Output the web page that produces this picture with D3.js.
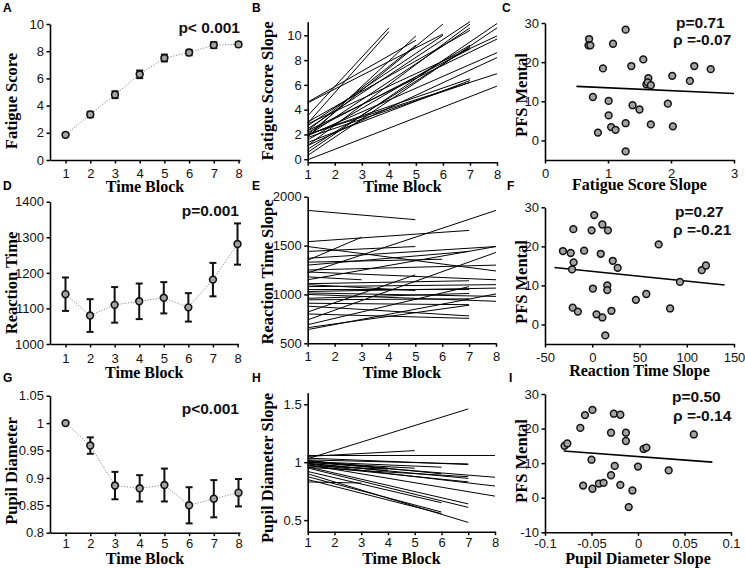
<!DOCTYPE html>
<html><head><meta charset="utf-8">
<script src="https://cdn.jsdelivr.net/npm/d3@7"></script>
<style>body{margin:0;background:#fff}</style>
</head><body>
<svg id="c" width="745" height="568"></svg>
<script>
// ---------- data ----------
const timeBlocks=[1,2,3,4,5,6,7,8];
const fatigueMean=[1.85,3.35,4.8,6.3,7.5,7.9,8.45,8.5];
const fatigueErr=[0.12,0.2,0.25,0.28,0.25,0.2,0.22,0.15];
const rtMean=[1140,1080,1110,1120,1130,1103,1181,1281];
const rtErr=[47,46,50,50,44,40,47,58];
const pupilMean=[1.0,0.959,0.886,0.881,0.887,0.850,0.862,0.873];
const pupilErr=[0.002,0.015,0.025,0.024,0.03,0.033,0.034,0.025];

// individual fitted lines: [value at block 1, last block, value at last block]
const fatigueLines=[
 [3.5,4,10.6],[2.9,4,10.3],
 [1.8,5,9.95],[4.6,5,9.6],[2.3,5,9.2],
 [2.0,6,10.9],[4.55,6,10.1],[2.7,6,10.0],
 [2.45,7,11.1],[1.1,7,10.9],[1.9,7,10.6],[3.0,7,10.4],[1.55,7,9.2],[0.8,7,9.05],[2.15,7,8.9],[2.0,7,6.5],[1.35,7,6.35],[1.75,7,6.2],
 [0.55,8,10.95],[0.3,8,10.6],[2.85,8,9.95],[2.3,8,9.7],[1.9,8,8.6],[1.1,8,8.2],[2.0,8,6.9],[-0.05,8,5.9]
];
const rtLines=[
 [1860,5,1765],[1540,7,1655],[1350,3,1585],[1440,5,1490],[1490,8,1240],[1220,8,1860],
 [1370,8,1490],[1150,8,1490],[1300,7,1440],[1250,8,1300],[740,8,1430],[820,5,1200],
 [1230,8,1150],[1110,7,1140],[1080,8,1100],[1050,7,1050],[1015,8,980],[1000,8,930],
 [945,7,955],[960,7,1010],[1030,8,1065],[910,7,895],[880,7,780],[800,7,755],
 [690,7,1080],[660,7,890],[640,8,1005],[1100,5,1040],[1330,6,1360],[1180,3,1150]
];
const pupilLines=[
 [1.03,7,1.46],[1.05,5,1.10],[1.058,8,1.058],[1.035,7,0.98],[1.02,7,0.985],[1.005,6,0.957],
 [1.01,4,0.948],[0.99,4,0.925],[1.0,8,0.87],[0.985,8,0.794],[0.977,8,0.707],[0.99,7,0.86],
 [0.97,7,0.83],[0.96,7,0.64],[0.95,7,0.61],[0.90,7,0.48],[0.92,6,0.65],[0.875,6,0.57],
 [0.85,6,0.556],[0.83,3,0.82],[0.955,7,0.875],[1.0,5,0.948],[0.97,4,0.94],[1.015,6,0.9]
];

const fatigueSlope=[0.70,0.69,0.72,1.08,1.28,0.92,1.37,1.56,1.64,1.61,1.63,1.68,2.37,2.63,2.30,2.02,0.76,1.01,1.01,1.39,1.50,1.95,1.05,1.12,0.84,1.28,1.68,2.03,1.28];
const pfsC=[25.9,24.3,24.3,24.7,28.3,18.4,19.0,20.7,15.9,14.3,14.8,14.1,19.0,18.2,15.2,16.5,11.1,10.1,6.4,9.0,7.9,9.4,3.4,2.7,2.0,4.4,4.1,3.6,-2.8];
const fitC=[[0.5,13.8],[3,12.0]];

const rtSlope=[-31,-22.8,-20,-19.7,-21.4,-8.6,-0.7,2.1,10.7,16.6,9,21.7,26.9,0.7,15.9,15.9,-20.7,-15.2,4.5,10.7,20.3,13.8,46.2,57.2,70.3,82.4,92.8,115.9,120.3];
const pfsF=[18.8,18.3,24.4,15.9,14.1,18.9,24.1,28.0,25.6,24.1,18.1,16.3,14.5,9.2,10.0,8.8,4.3,3.3,2.6,1.8,3.5,-2.8,6.3,7.8,20.5,4.1,10.9,13.9,15.1];
const fitF=[[-40,14.6],[140,10.1]];

const pupilSlope=[-0.079,-0.076,-0.062,-0.057,-0.049,-0.050,-0.059,-0.049,-0.042,-0.037,-0.029,-0.025,-0.029,-0.026,-0.019,-0.013,-0.013,-0.019,-0.006,-0.010,0.0,0.006,0.009,0.033,0.060];
const pfsI=[15.0,15.7,20.2,23.9,25.4,11.0,3.5,2.6,4.1,4.3,6.5,9.2,18.8,24.3,24.0,18.8,16.4,3.7,2.1,-2.7,9.0,14.1,14.5,7.9,18.3];
const fitI=[[-0.08,13.5],[0.08,10.3]];

// ---------- drawing ----------
const svg=d3.select('#c');
const SANS='"Liberation Sans", Arial, sans-serif';
const SERIF='"Liberation Serif", "Times New Roman", serif';
const GRAY='#a3a3a3';

function makePanel(o){
  const g=svg.append('g');
  const x=d3.scaleLinear().domain(o.xd).range(o.xr);
  const y=d3.scaleLinear().domain(o.yd).range(o.yr);
  const xa=g.append('g').attr('transform',`translate(0,${o.yr[0]})`)
    .call(d3.axisBottom(x).tickValues(o.xt).tickSize(3.5).tickSizeOuter(0).tickFormat(o.xf||(d=>d)));
  const ya=g.append('g').attr('transform',`translate(${o.xr[0]},0)`)
    .call(d3.axisLeft(y).tickValues(o.yt).tickSize(3.5).tickSizeOuter(0).tickPadding(2.5).tickFormat(o.yf||(d=>d)));
  [xa,ya].forEach(a=>{
    a.select('.domain').attr('stroke','#000').attr('stroke-width',1.6);
    a.selectAll('.tick line').attr('stroke','#000').attr('stroke-width',1.5);
    a.selectAll('text').attr('font-family',SANS).attr('font-size',13).attr('fill','#111');
  });
  xa.selectAll('text').attr('y',o.xtb).attr('dy',0);
  // titles
  g.append('text').attr('x',(o.xr[0]+o.xr[1])/2).attr('y',o.xTitleY).attr('text-anchor','middle')
    .attr('font-family',SERIF).attr('font-weight','bold').attr('font-size',16).text(o.xTitle);
  g.append('text').attr('transform',`translate(${o.yTitleX},${o.yTitleC}) rotate(-90)`).attr('text-anchor','middle')
    .attr('font-family',SERIF).attr('font-weight','bold').attr('font-size',16.5).text(o.yTitle);
  g.append('text').attr('x',o.lx).attr('y',o.ly).attr('font-family',SANS).attr('font-weight','bold')
    .attr('font-size',12).text(o.letter);
  return {g,x,y};
}

function meanPlot(p,means,errs){
  const {g,x,y}=p;
  const pts=timeBlocks.map((t,i)=>({t,m:means[i],e:errs[i]}));
  g.append('path').datum(pts).attr('fill','none').attr('stroke','#8a8a8a').attr('stroke-width',1)
    .attr('stroke-dasharray','1.2,1.6').attr('d',d3.line().x(d=>x(d.t)).y(d=>y(d.m)));
  const eb=g.append('g').attr('stroke','#111').attr('stroke-width',2);
  pts.forEach(d=>{
    eb.append('line').attr('x1',x(d.t)).attr('x2',x(d.t)).attr('y1',y(d.m-d.e)).attr('y2',y(d.m+d.e));
    eb.append('line').attr('x1',x(d.t)-3.5).attr('x2',x(d.t)+3.5).attr('y1',y(d.m-d.e)).attr('y2',y(d.m-d.e));
    eb.append('line').attr('x1',x(d.t)-3.5).attr('x2',x(d.t)+3.5).attr('y1',y(d.m+d.e)).attr('y2',y(d.m+d.e));
  });
  g.selectAll('circle.m').data(pts).enter().append('circle').attr('cx',d=>x(d.t)).attr('cy',d=>y(d.m))
    .attr('r',3.4).attr('fill',GRAY).attr('stroke','#111').attr('stroke-width',1.6);
}

function linesPlot(p,lines){
  const {g,x,y}=p;
  g.append('g').selectAll('line').data(lines).enter().append('line')
    .attr('x1',x(1)).attr('y1',d=>y(d[0])).attr('x2',d=>x(d[1])).attr('y2',d=>y(d[2]))
    .attr('stroke','#000').attr('stroke-width',1);
}

function scatterPlot(p,xs,ys,fit){
  const {g,x,y}=p;
  g.append('line').attr('x1',x(fit[0][0])).attr('y1',y(fit[0][1])).attr('x2',x(fit[1][0])).attr('y2',y(fit[1][1]))
    .attr('stroke','#000').attr('stroke-width',1.6);
  g.append('g').selectAll('circle').data(xs).enter().append('circle')
    .attr('cx',d=>x(d)).attr('cy',(d,i)=>y(ys[i])).attr('r',3.4)
    .attr('fill',GRAY).attr('stroke','#111').attr('stroke-width',1.5);
}

function pText(x,y,t,anchor){
  svg.append('text').attr('x',x).attr('y',y).attr('text-anchor',anchor).attr('font-family',SANS)
    .attr('font-weight','bold').attr('font-size',15.5).attr('fill','#111').text(t);
}

const fmt2=d=>String(+d.toFixed(2));

// Row 1
const A=makePanel({xd:[0.37,8.06],xr:[50,240],yd:[0,10],yr:[160,24],xt:timeBlocks,yt:[0,2,4,6,8,10],xtb:17.5,
  xTitle:'Time Block',xTitleY:191.5,yTitle:'Fatigue Score',yTitleX:17,yTitleC:101,letter:'A',lx:3,ly:12});
meanPlot(A,fatigueMean,fatigueErr);
pText(240,33,'p< 0.001','end');

const B=makePanel({xd:[1,8],xr:[307.7,497],yd:[-0.25,11.1],yr:[162.3,21.7],xt:timeBlocks,yt:[0,2,4,6,8,10],xtb:16.5,
  xTitle:'Time Block',xTitleY:191.5,yTitle:'Fatigue Score Slope',yTitleX:272.5,yTitleC:91,letter:'B',lx:252,ly:12});
linesPlot(B,fatigueLines);

const C=makePanel({xd:[0,3],xr:[545,734],yd:[-5,30],yr:[160,23],xt:[0,1,2,3],yt:[0,10,20,30],xtb:17.5,
  xTitle:'Fatigue Score Slope',xTitleY:190,yTitle:'PFS Mental',yTitleX:526.5,yTitleC:95,letter:'C',lx:502,ly:12});
scatterPlot(C,fatigueSlope,pfsC,fitC);
pText(676,28,'p=0.71','start');
pText(673,45,'ρ =-0.07','start');

// Row 2
const D=makePanel({xd:[0.37,8.04],xr:[50,238.5],yd:[1000,1400],yr:[344,201.7],xt:timeBlocks,yt:[1000,1100,1200,1300,1400],xtb:18.5,
  xTitle:'Time Block',xTitleY:377.5,yTitle:'Reaction Time',yTitleX:17,yTitleC:283,letter:'D',lx:3,ly:190});
meanPlot(D,rtMean,rtErr);
pText(239,216,'p=0.001','end');

const E=makePanel({xd:[1,8],xr:[307.7,496],yd:[500,2000],yr:[343.3,196.7],xt:timeBlocks,yt:[500,1000,1500,2000],xtb:17.5,
  xTitle:'Time Block',xTitleY:377.5,yTitle:'Reaction Time Slope',yTitleX:272.5,yTitleC:272,letter:'E',lx:252,ly:190});
linesPlot(E,rtLines);

const F=makePanel({xd:[-50,150],xr:[545,734],yd:[-5,30],yr:[344,207.3],xt:[-50,0,50,100,150],yt:[0,10,20,30],xtb:18,
  xTitle:'Reaction Time Slope',xTitleY:376,yTitle:'PFS Mental',yTitleX:526.5,yTitleC:282,letter:'F',lx:507,ly:190});
scatterPlot(F,rtSlope,pfsF,fitF);
pText(675,216.7,'p=0.27','start');
pText(673,235,'ρ =-0.21','start');

// Row 3
const G=makePanel({xd:[0.37,8.06],xr:[50,240],yd:[0.8,1.05],yr:[532.7,395.7],xt:timeBlocks,yt:[0.8,0.85,0.9,0.95,1,1.05],yf:fmt2,xtb:15.5,
  xTitle:'Time Block',xTitleY:564,yTitle:'Pupil Diameter',yTitleX:17,yTitleC:471,letter:'G',lx:3,ly:382});
meanPlot(G,pupilMean,pupilErr);
pText(239,414,'p<0.001','end');

const H=makePanel({xd:[1,8],xr:[307.7,495],yd:[0.4,1.6],yr:[531.7,392.7],xt:timeBlocks,yt:[0.5,1,1.5],yf:fmt2,xtb:15.5,
  xTitle:'Time Block',xTitleY:564,yTitle:'Pupil Diameter Slope',yTitleX:272.5,yTitleC:468,letter:'H',lx:252,ly:382});
linesPlot(H,pupilLines);

const I=makePanel({xd:[-0.1,0.1],xr:[545,731],yd:[-10,30],yr:[532.3,394],xt:[-0.1,-0.05,0,0.05,0.1],yt:[-10,0,10,20,30],xf:fmt2,xtb:15.5,
  xTitle:'Pupil Diameter Slope',xTitleY:563.5,yTitle:'PFS Mental',yTitleX:526.5,yTitleC:461,letter:'I',lx:509,ly:382});
scatterPlot(I,pupilSlope,pfsI,fitI);
pText(672,401.7,'p=0.50','start');
pText(673,421,'ρ =-0.14','start');
</script>
</body></html>
